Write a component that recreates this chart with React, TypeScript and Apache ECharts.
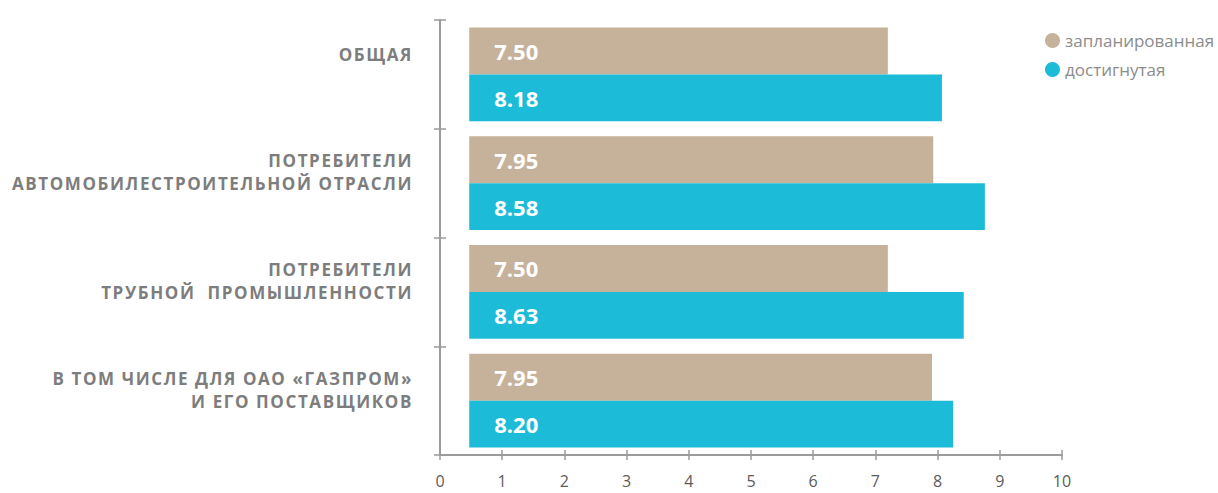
import React, { useEffect, useRef } from "react";
import * as echarts from "echarts";

const categories = [
  "ОБЩАЯ",
  "ПОТРЕБИТЕЛИ\nАВТОМОБИЛЕСТРОИТЕЛЬНОЙ ОТРАСЛИ",
  "ПОТРЕБИТЕЛИ\nТРУБНОЙ  ПРОМЫШЛЕННОСТИ",
  "В ТОМ ЧИСЛЕ ДЛЯ ОАО «ГАЗПРОМ»\nИ ЕГО ПОСТАВЩИКОВ",
];
const seriesNames = ["запланированная", "достигнутая"];
const plannedLabels = ["7.50", "7.95", "7.50", "7.95"];
const achievedLabels = ["8.18", "8.58", "8.63", "8.20"];
const barStart = [0.47, 0.47, 0.47, 0.47];
const plannedEnd = [7.2, 7.93, 7.2, 7.91];
const achievedEnd = [8.07, 8.76, 8.42, 8.25];
const xTicks = [0, 1, 2, 3, 4, 5, 6, 7, 8, 9, 10];

const PLANNED = "#c6b29a";
const ACHIEVED = "#1cbcd8";
const AXIS = "#9b9b9b";
const FONT = "'Open Sans', 'Noto Sans', sans-serif";
const CAT_FONT = "'Open Sans', 'DejaVu Sans', sans-serif";

export default function App() {
  const ref = useRef<HTMLDivElement>(null);
  useEffect(() => {
    if (!ref.current) return;
    const chart = echarts.init(ref.current, null, { renderer: "svg" });
    const len = (ends: number[]) => ends.map((v, i) => +(v - barStart[i]).toFixed(2));
    const valueLabel = (texts: string[]) => ({
      show: true,
      position: "insideLeft",
      distance: 25,
      color: "#ffffff",
      fontFamily: FONT,
      fontWeight: "bold",
      fontSize: 22,
      formatter: (p: any) => texts[p.dataIndex],
    });
    chart.setOption({
      animation: false,
      textStyle: { fontFamily: FONT },
      legend: {
        orient: "vertical",
        left: 1040,
        top: 27,
        itemWidth: 15,
        itemHeight: 15,
        itemGap: 12,
        icon: "circle",
        data: seriesNames,
        textStyle: { color: "#8c8c8c", fontSize: 17, fontFamily: FONT },
      },
      grid: { left: 440, right: 156, top: 20, bottom: 38 },
      xAxis: [
        {
          type: "value",
          min: xTicks[0],
          max: xTicks[xTicks.length - 1],
          interval: 1,
          splitLine: { show: false },
          axisLine: { show: true, lineStyle: { color: AXIS, width: 2 } },
          axisTick: { show: true, length: 5, lineStyle: { color: AXIS, width: 1.5 } },
          axisLabel: { color: "#5c5c5c", fontSize: 16, margin: 18, fontFamily: FONT },
        },
        {
          type: "value",
          position: "bottom",
          min: xTicks[0],
          max: xTicks[xTicks.length - 1],
          interval: 1,
          splitLine: { show: false },
          axisLine: { show: false },
          axisTick: { show: true, inside: true, length: 5, lineStyle: { color: AXIS, width: 1.5 } },
          axisLabel: { show: false },
        },
      ],
      yAxis: [
        {
          type: "category",
          inverse: true,
          data: categories,
          axisLine: { show: true, lineStyle: { color: AXIS, width: 2 } },
          axisTick: { show: true, length: 6, lineStyle: { color: AXIS, width: 1.5 } },
          axisLabel: {
            color: "#7d7d7d",
            fontSize: 17,
            fontWeight: "bold",
            fontFamily: CAT_FONT,
            lineHeight: 23,
            align: "right",
            margin: 27,
            padding: [0, 0, 22, 0],
            formatter: (v: string, i: number) => (i === 0 ? `{first|${v}}` : v),
            rich: {
              first: {
                color: "#7d7d7d",
                fontSize: 17,
                fontWeight: "bold",
                fontFamily: CAT_FONT,
                padding: [0, 0, 18, 0],
              },
            },
          },
        },
        {
          type: "category",
          inverse: true,
          position: "left",
          data: categories,
          axisLine: { show: false },
          axisTick: { show: true, inside: true, length: 6, lineStyle: { color: AXIS, width: 1.5 } },
          axisLabel: { show: false },
        },
      ],
      series: [
        {
          type: "bar",
          stack: "p",
          silent: true,
          data: barStart,
          itemStyle: { color: "transparent" },
          barGap: "0%",
          barCategoryGap: "14%",
        },
        {
          name: seriesNames[0],
          type: "bar",
          stack: "p",
          data: len(plannedEnd),
          itemStyle: { color: PLANNED },
          label: valueLabel(plannedLabels),
          barGap: "0%",
          barCategoryGap: "14%",
        },
        {
          type: "bar",
          stack: "a",
          silent: true,
          data: barStart,
          itemStyle: { color: "transparent" },
          barGap: "0%",
          barCategoryGap: "14%",
        },
        {
          name: seriesNames[1],
          type: "bar",
          stack: "a",
          data: len(achievedEnd),
          itemStyle: { color: ACHIEVED },
          label: valueLabel(achievedLabels),
          barGap: "0%",
          barCategoryGap: "14%",
        },
      ],
    });
    return () => chart.dispose();
  }, []);
  return (
    <>
      <style>{`text[style*="DejaVu"] { letter-spacing: 1.6px; }`}</style>
      <div
        ref={ref}
        style={{ position: "fixed", left: 0, top: 0, width: 1218, height: 493, background: "#ffffff" }}
      />
    </>
  );
}
